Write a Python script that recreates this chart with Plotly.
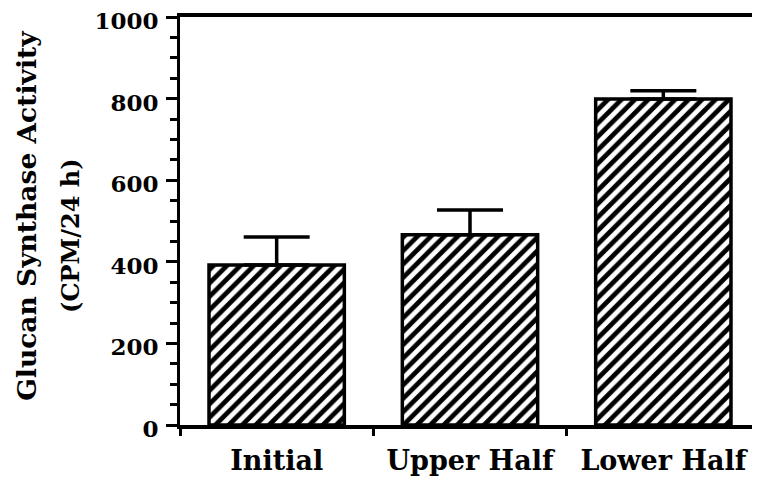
import plotly.graph_objects as go

categories = ["Initial", "Upper Half", "Lower Half"]
activity = [392, 466, 799]
error_plus = [69, 61, 20]
y_ticks = [0, 200, 400, 600, 800, 1000]

FONT = "DejaVu Serif"

fig = go.Figure()
fig.add_trace(go.Bar(
    x=categories,
    y=activity,
    width=0.7,
    marker=dict(
        color="white",
        line=dict(color="black", width=3.5),
        pattern=dict(shape="/", fgcolor="black", bgcolor="white", fgopacity=1,
                     size=9.5, solidity=0.5),
    ),
    error_y=dict(type="data", symmetric=False, array=error_plus, arrayminus=[0, 0, 0],
                 color="black", thickness=3.5, width=33),
))

# the page body adds an 8px offset, so margins are shifted to compensate
fig.update_layout(
    width=760, height=488,
    margin=dict(l=172, r=8, t=9, b=71),
    paper_bgcolor="white", plot_bgcolor="white",
    showlegend=False,
    font=dict(family=FONT, size=21, color="black"),
    xaxis=dict(
        type="category", range=[-0.5, 2.5], automargin=False,
        showline=True, linecolor="black", linewidth=3.5, mirror=True,
        ticks="outside", tickson="boundaries", ticklen=7, tickwidth=2.5, tickcolor="black",
        tickfont=dict(family=FONT, size=27, color="black", weight="bold"),
        ticklabelstandoff=9, ticklabeloverflow="allow",
        showgrid=False, zeroline=False,
    ),
    yaxis=dict(
        range=[0, 1000], automargin=False,
        tickvals=y_ticks, ticktext=[str(v) for v in y_ticks],
        showline=True, linecolor="black", linewidth=3,
        ticks="outside", ticklen=11, tickwidth=2.5, tickcolor="black",
        minor=dict(dtick=50, ticks="outside", ticklen=7, tickwidth=2.5, tickcolor="black"),
        tickfont=dict(family=FONT, size=23, color="black", weight="bold"),
        ticklabelstandoff=3, ticklabelshift=4, ticklabeloverflow="allow",
        showgrid=False, zeroline=False,
    ),
)

fig.add_annotation(text="Glucan Synthase Activity", textangle=-90,
                   xref="paper", yref="paper", x=-0.264, y=0.515, xanchor="center", yanchor="middle",
                   showarrow=False, font=dict(family=FONT, size=26.5, color="black", weight="bold"))
fig.add_annotation(text="(CPM/24 h)", textangle=-90,
                   xref="paper", yref="paper", x=-0.19, y=0.463, xanchor="center", yanchor="middle",
                   showarrow=False, font=dict(family=FONT, size=24, color="black", weight="bold"))

fig.write_html("out.html")
